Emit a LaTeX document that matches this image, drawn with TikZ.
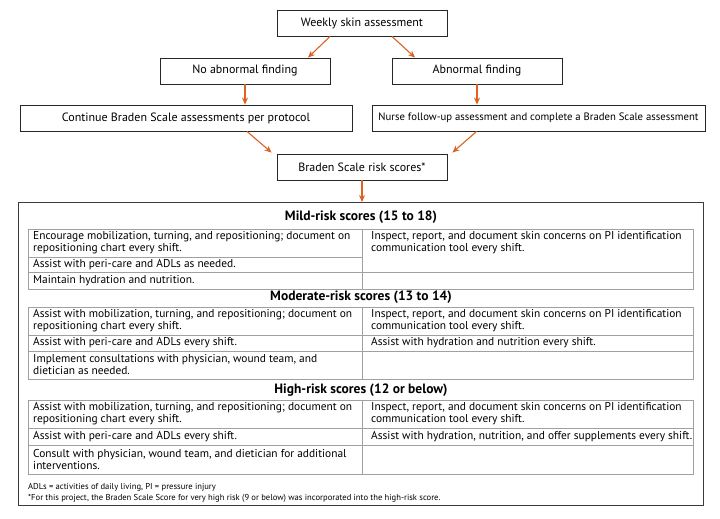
\documentclass[tikz,border=0pt]{standalone}
\usepackage{fontspec}
\setmainfont{PT Sans}
\usetikzlibrary{arrows.meta}
\definecolor{arr}{RGB}{222,96,34}
\definecolor{tline}{RGB}{160,160,160}
\definecolor{frame}{RGB}{60,60,60}
\tikzset{
  fbox/.style={draw=black!85, line width=0.9pt, minimum height=26pt, inner sep=0pt, font=\fontsize{12}{14}\selectfont},
  flow/.style={draw=arr, line width=1.1pt, -{Stealth[length=7pt,width=6pt]}},
  cell/.style={anchor=west, align=left, inner sep=0pt, font=\fontsize{11.4}{12}\selectfont},
  ttl/.style={inner sep=0pt, font=\bfseries\fontsize{13.5}{15}\selectfont},
  foot/.style={anchor=west, inner sep=0pt, font=\fontsize{8.6}{10}\selectfont},
  tl/.style={draw=tline, line width=0.8pt},
}
\begin{document}
\begin{tikzpicture}[x=1pt,y=-1pt]
\useasboundingbox[fill=white] (0,0) rectangle (720,519);
% flowchart
\node[fbox, minimum width=170pt] (weekly) at (362,23) {Weekly skin assessment};
\node[fbox, minimum width=170pt] (noab) at (245,71) {No abnormal finding};
\node[fbox, minimum width=170pt] (ab) at (477,71) {Abnormal finding};
\node[fbox, minimum width=332pt] (cont) at (186,118) {Continue Braden Scale assessments per protocol};
\node[fbox, minimum width=333pt] (nurse) at (538.5,118) {\resizebox{320pt}{!}{Nurse follow-up assessment and complete a Braden Scale assessment}};
\node[fbox, minimum width=170pt] (braden) at (362,167) {Braden Scale risk scores*};
\coordinate (boxtop) at (362,202);
\draw[flow] ([xshift=-32pt]weekly.south) -- ([xshift=63pt]noab.north);
\draw[flow] ([xshift=30pt]weekly.south) -- ([xshift=-62pt]ab.north);
\draw[flow] (noab.south) -- (noab.south |- cont.north);
\draw[flow] (ab.south) -- (ab.south |- nurse.north);
\draw[flow] ([xshift=61pt]cont.south) -- ([xshift=-5pt,yshift=1pt]braden.north west);
\draw[flow] ([xshift=-62pt]nurse.south) -- ([xshift=5pt,yshift=1pt]braden.north east);
\draw[flow] (braden.south) -- (boxtop);
% big frame
\draw[draw=frame, line width=1pt] (18,202) rectangle (703,505);
% Mild
\node[ttl] (mildt) at (361,217) {Mild-risk scores (15 to 18)};
\draw[tl] (28,229) rectangle (693,289);
\draw[tl] (362,229) -- (362,289);
\draw[tl] (28,257) -- (362,257);
\draw[tl] (28,272) -- (693,272);
\node[cell] (m1) at (33,243) {Encourage mobilization, turning, and repositioning; document on\\repositioning chart every shift.};
\node[cell] (m2) at (33,264.5) {Assist with peri-care and ADLs as needed.};
\node[cell] (m3) at (33,280.5) {Maintain hydration and nutrition.};
\node[cell] (m4) at (371,243) {Inspect, report, and document skin concerns on PI identification\\communication tool every shift.};
% Moderate
\node[ttl] (modt) at (361,297) {Moderate-risk scores (13 to 14)};
\draw[tl] (28,307) rectangle (693,379);
\draw[tl] (362,307) -- (362,379);
\draw[tl] (28,335) -- (693,335);
\draw[tl] (28,351) -- (693,351);
\node[cell] (d1) at (33,321) {Assist with mobilization, turning, and repositioning; document on\\repositioning chart every shift.};
\node[cell] (d2) at (33,343) {Assist with peri-care and ADLs every shift.};
\node[cell] (d3) at (33,365) {Implement consultations with physician, wound team, and\\dietician as needed.};
\node[cell] (d4) at (371,321) {Inspect, report, and document skin concerns on PI identification\\communication tool every shift.};
\node[cell] (d5) at (371,343) {Assist with hydration and nutrition every shift.};
% High
\node[ttl] (hight) at (361,390) {High-risk scores (12 or below)};
\draw[tl] (28,400) rectangle (693,474);
\draw[tl] (362,400) -- (362,474);
\draw[tl] (28,428) -- (693,428);
\draw[tl] (28,445) -- (693,445);
\node[cell] (h1) at (33,414) {Assist with mobilization, turning, and repositioning; document on\\repositioning chart every shift.};
\node[cell] (h2) at (33,436.5) {Assist with peri-care and ADLs every shift.};
\node[cell] (h3) at (33,459.5) {Consult with physician, wound team, and dietician for additional\\interventions.};
\node[cell] (h4) at (371,414) {Inspect, report, and document skin concerns on PI identification\\communication tool every shift.};
\node[cell] (h5) at (371,436.5) {Assist with hydration, nutrition, and offer supplements every shift.};
% footnotes
\node[foot] (f1) at (28,487) {ADLs = activities of daily living, PI = pressure injury};
\node[foot] (f2) at (28,498) {*For this project, the Braden Scale Score for very high risk (9 or below) was incorporated into the high-risk score.};
\end{tikzpicture}
\end{document}
